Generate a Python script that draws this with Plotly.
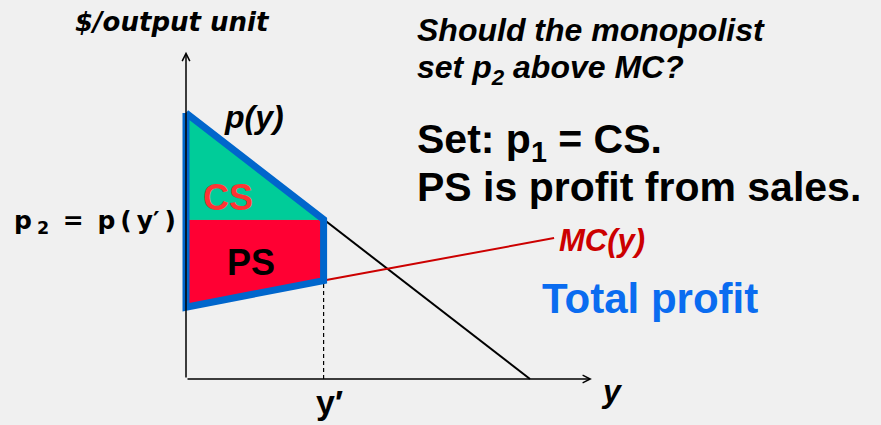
import plotly.graph_objects as go

# ---- data (economic units) ----
demand_q = [0, 10]
demand_p = [10, 0]
mc_q = [0, 4, 10.7]
mc_p = [2.7, 3.7, 5.3]
y_prime = 4
p2 = 6
x_axis_end = 11.8
y_axis_end = 12.3

W, H = 881, 425
# pixel mapping (layout only)
ox, oy = 186, 379
sx, sy = 34.4, 26.6
xr = [-ox / sx, (W - ox) / sx]
yr = [-(H - oy) / sy, oy / sy]

BG = "#f0f0f0"
fig = go.Figure()

# demand
fig.add_trace(go.Scatter(x=demand_q, y=demand_p, mode="lines",
                         line=dict(color="black", width=2), hoverinfo="skip"))
# MC
fig.add_trace(go.Scatter(x=mc_q, y=mc_p, mode="lines",
                         line=dict(color="#cc0000", width=2), hoverinfo="skip"))
# dashed drop line
mc_at_yp = mc_p[mc_q.index(y_prime)]
fig.add_trace(go.Scatter(x=[y_prime, y_prime], y=[0, mc_at_yp], mode="lines",
                         line=dict(color="black", width=1.2, dash="4px,3px"), hoverinfo="skip"))
# CS area
fig.add_trace(go.Scatter(x=[0, y_prime, 0, 0], y=[demand_p[0], p2, p2, demand_p[0]],
                         mode="none", fill="toself", fillcolor="#00cc99", hoverinfo="skip"))
# PS area
fig.add_trace(go.Scatter(x=[0, y_prime, y_prime, 0, 0], y=[p2, p2, mc_at_yp, mc_p[0], p2],
                         mode="none", fill="toself", fillcolor="#ff0033", hoverinfo="skip"))
# CS/PS divider (thin)
fig.add_trace(go.Scatter(x=[0, y_prime], y=[p2, p2], mode="lines",
                         line=dict(color="#00cc99", width=1), hoverinfo="skip"))
# blue outline: total profit
fig.add_trace(go.Scatter(x=[0, y_prime, y_prime, 0, 0],
                         y=[demand_p[0], p2, mc_at_yp, mc_p[0], demand_p[0]],
                         mode="lines", line=dict(color="#0066cc", width=7), hoverinfo="skip"))

# axes with arrows
fig.add_annotation(x=0, y=y_axis_end, ax=0, ay=0, xref="x", yref="y", axref="x", ayref="y",
                   showarrow=True, arrowhead=5, arrowsize=1, arrowwidth=1.5, arrowcolor="black", text="")
fig.add_annotation(x=x_axis_end, y=0, ax=0, ay=0, xref="x", yref="y", axref="x", ayref="y",
                   showarrow=True, arrowhead=5, arrowsize=1, arrowwidth=1.5, arrowcolor="black", text="")

def px(x):
    return x / W

def py(y):
    return 1 - y / H

ARIAL = "Liberation Sans, Arial, sans-serif"
DEJA = "DejaVu Sans, sans-serif"

def txt(t, x, y, size, color="black", xanchor="center", yanchor="middle", family=ARIAL):
    fig.add_annotation(text=t, x=px(x), y=py(y), xref="paper", yref="paper",
                       showarrow=False, xanchor=xanchor, yanchor=yanchor,
                       font=dict(family=family, size=size, color=color))

T = "\u2009"
txt("<b><i>$/output unit</i></b>", 172, 22, 26, family=DEJA)
txt("<b><i>p(y)</i></b>", 222, 117, 32, xanchor="left")
txt("<b>CS</b>", 228, 197, 36, color="#ff3333")
txt("<b>PS</b>", 251, 262, 36)
txt("<b>p" + T + "<sub>2</sub>" + T + " = " + T + "p" + T + "(" + T + "y′" + T + ")</b>",
    12, 222, 25, xanchor="left", family=DEJA)
txt("<b>y′</b>", 329, 402, 34)
txt("<b><i>y</i></b>", 612, 391, 32)
txt("<b><i>MC(y)</i></b>", 557, 240, 31, color="#cc0000", xanchor="left")
txt("<b><i>Should the monopolist</i></b>", 415, 30, 32, xanchor="left")
txt("<b><i>set p<sub>2</sub> above MC?</i></b>", 415, 70, 32, xanchor="left")
txt("<b>Set: p<sub>1</sub> = CS.</b>", 415, 142, 41, xanchor="left")
txt("<b>PS is profit from sales.</b>", 415, 187, 41, xanchor="left")
txt("<b>Total profit</b>", 540, 298, 42, color="#0a6cf0", xanchor="left")

fig.update_layout(
    width=W, height=H, margin=dict(l=0, r=0, t=0, b=0),
    paper_bgcolor=BG, plot_bgcolor=BG, showlegend=False,
    xaxis=dict(range=xr, visible=False, fixedrange=True),
    yaxis=dict(range=yr, visible=False, fixedrange=True),
)
fig.write_html("out.html", config={"displayModeBar": False},
               post_script="document.body.style.margin='0';document.body.style.background='#f0f0f0';")
